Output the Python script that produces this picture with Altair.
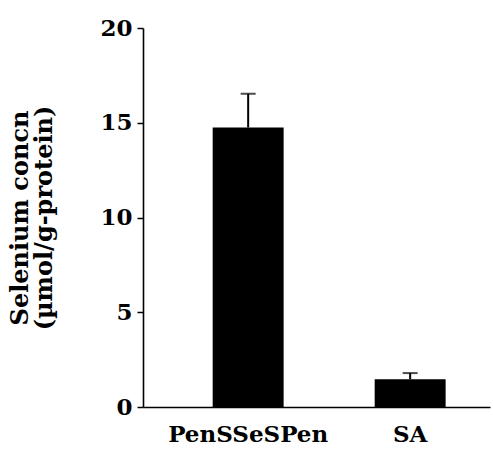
import altair as alt
import pandas as pd

# Mean selenium concentration per treatment with its standard deviation
groups = ["PenSSeSPen", "SA"]
means = [14.75, 1.46]
errors = [1.78, 0.33]

df = pd.DataFrame({"group": groups, "mean": means, "err": errors})
df["upper"] = df["mean"] + df["err"]

FONT = "DejaVu Serif"

x_enc = alt.X(
    "group:N",
    sort=groups,
    scale=alt.Scale(paddingInner=0.562, paddingOuter=0.352, align=0.611),
    axis=alt.Axis(
        title=None,
        labelAngle=0,
        ticks=False,
        labelPadding=16,
        labelFont=FONT,
        labelFontSize=23,
        labelFontWeight="bold",
        labelColor="black",
        domainColor="black",
        domainWidth=1.6,
    ),
)

y_scale = alt.Scale(domain=[0, 20], nice=False)
y_axis = alt.Axis(
    values=[0, 5, 10, 15, 20],
    grid=False,
    tickSize=6,
    tickWidth=1.5,
    tickColor="black",
    domainColor="black",
    domainWidth=1.6,
    labelPadding=5,
    labelFont=FONT,
    labelFontSize=23,
    labelFontWeight="bold",
    labelColor="black",
    title=["Selenium concn", "(µmol/g-protein)"],
    titleFont=FONT,
    titleFontSize=24,
    titleFontWeight="bold",
    titleColor="black",
    titleLineHeight=24,
    titlePadding=43,
)

base = alt.Chart(df)

bars = base.mark_bar(color="black").encode(
    x=x_enc,
    y=alt.Y("mean:Q", scale=y_scale, axis=y_axis),
)

stems = base.mark_rule(color="black", strokeWidth=2).encode(
    x=alt.X("group:N", sort=groups),
    y="mean:Q",
    y2="upper:Q",
)

caps = base.mark_tick(color="black", size=15, thickness=2).encode(
    x=alt.X("group:N", sort=groups),
    y="upper:Q",
)

chart = (
    alt.layer(bars, stems, caps)
    .properties(
        width=347,
        height=379,
        autosize=alt.AutoSizeParams(type="none"),
        padding={"left": 143, "top": 28, "right": 3, "bottom": 43},
        background="white",
    )
    .configure_view(stroke=None)
)

chart.save("out.html", embed_options={"renderer": "svg", "actions": False})
